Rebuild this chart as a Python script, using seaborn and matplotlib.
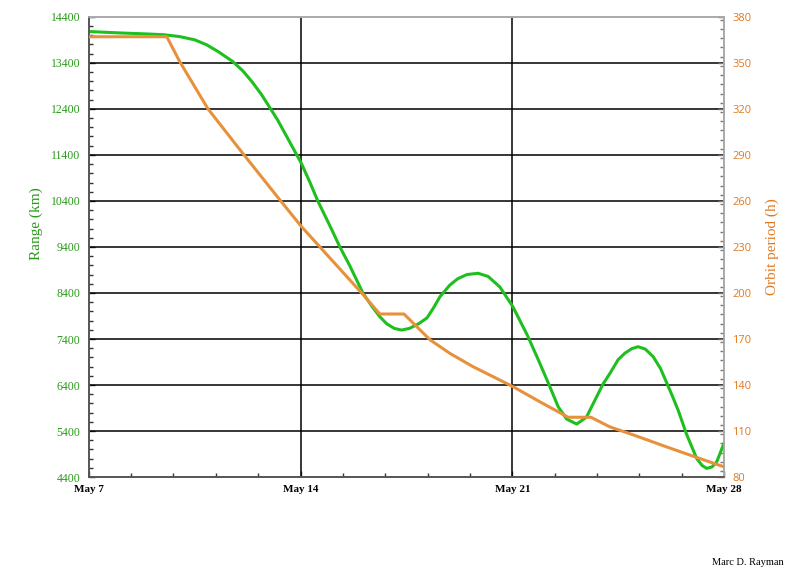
import matplotlib
matplotlib.use('Agg')
import matplotlib.pyplot as plt
from matplotlib.ticker import MultipleLocator
import seaborn as sns
import numpy as np

# days after May 7
range_days = [0, 1.0, 2.0, 2.5, 3.0, 3.5, 3.9, 4.27, 4.76, 5.1, 5.39, 5.7, 5.99,
              6.25, 6.5, 6.75, 7.02, 7.3, 7.57, 8.0, 8.3, 8.63, 9.06, 9.35, 9.62,
              9.85, 10.1, 10.34, 10.6, 10.9, 11.18, 11.4, 11.61, 11.94, 12.2, 12.5,
              12.87, 13.2, 13.59, 14.02, 14.5, 14.86, 15.22, 15.52, 15.8, 16.13,
              16.45, 16.79, 17.0, 17.23, 17.5, 17.72, 17.95, 18.16, 18.4, 18.66,
              18.9, 19.1, 19.3, 19.49, 19.76, 20.1, 20.28, 20.43, 20.6, 20.76, 21.0]
range_km = [14080, 14050, 14025, 14009, 13970, 13900, 13790, 13646, 13428, 13220,
            12993, 12720, 12422, 12150, 11850, 11550, 11226, 10820, 10400, 9820,
            9400, 8990, 8400, 8120, 7885, 7730, 7630, 7594, 7630, 7730, 7857, 8080,
            8320, 8574, 8710, 8800, 8828, 8760, 8530, 8102, 7480, 6950, 6400, 5926,
            5660, 5552, 5700, 6146, 6420, 6654, 6950, 7090, 7190, 7233, 7180, 7015,
            6760, 6457, 6150, 5843, 5335, 4800, 4650, 4589, 4620, 4733, 5133]

period_days = [0, 2.58, 3.0, 3.94, 5.09, 6.32, 7.02, 7.64, 9.02, 9.62, 10.42, 11.28,
               11.94, 12.7, 14.02, 14.91, 15.85, 16.6, 17.23, 18.0, 19.1, 20.2, 21.0]
period_h = [367, 367, 351, 320, 291, 260.6, 243.5, 230, 200, 186.3, 186.3, 169.5,
            160.6, 152, 139, 129.1, 119, 119, 112.7, 107.5, 99.7, 92.1, 86.7]

date_ticks = [0, 7, 14, 21]
date_labels = ['May 7', 'May 14', 'May 21', 'May 28']

sns.set_theme(style='white')
plt.rcParams['font.family'] = ['Liberation Serif', 'DejaVu Serif']

green = '#1fbf1f'
green_txt = '#2a9a1a'
orange = '#e8913c'
orange_txt = '#e07a22'

fig = plt.figure(figsize=(8, 5.79), dpi=100)
ax = fig.add_axes([0.111, 0.176, 0.794, 0.795])
ax2 = ax.twinx()

sns.lineplot(x=range_days, y=range_km, ax=ax, color=green, linewidth=2.2, zorder=3)
sns.lineplot(x=period_days, y=period_h, ax=ax2, color=orange, linewidth=2.2, zorder=3)

ax.set_xlim(0, 21)
ax.set_ylim(4400, 14400)
ax2.set_ylim(80, 380)

ax.set_xticks(date_ticks)
ax.set_xticklabels(date_labels, fontsize=8, fontweight='bold', color='black')
ax.xaxis.set_minor_locator(MultipleLocator(1.4))
ax.set_yticks(np.arange(4400, 14401, 1000))
ax.yaxis.set_minor_locator(MultipleLocator(200))
ax2.set_yticks(np.arange(80, 381, 30))
ax2.yaxis.set_minor_locator(MultipleLocator(6))

for lab in ax.get_yticklabels():
    lab.set_color(green_txt)
    lab.set_fontsize(8.5)
for lab in ax2.get_yticklabels():
    lab.set_color(orange_txt)
    lab.set_fontsize(8)
    lab.set_family(['Open Sans', 'DejaVu Sans'])

ax.tick_params(axis='both', which='major', direction='in', length=4, width=1,
               color='#333333', pad=6, left=True, bottom=True, right=False, top=False)
ax.tick_params(axis='both', which='minor', direction='in', length=3, width=1,
               color='#333333', left=True, bottom=True, right=False, top=False)
ax2.tick_params(axis='y', which='major', direction='in', length=4, width=1,
                color='#777777', pad=6, right=True, left=False)
ax2.tick_params(axis='y', which='minor', direction='in', length=3, width=1,
                color='#777777', right=True, left=False)
ax2.tick_params(axis='x', which='both', top=False, bottom=False)

# grid lines
for y in range(5400, 14400, 1000):
    ax.axhline(y, color='black', linewidth=1.1, zorder=1)
for d in [7, 14]:
    ax.axvline(d, color='black', linewidth=1.1, zorder=1)

for a in (ax, ax2):
    a.spines['top'].set_color('#aaaaaa')
    a.spines['right'].set_color('#aaaaaa')
    a.spines['left'].set_color('#555555')
    a.spines['bottom'].set_color('#555555')
    for s in a.spines.values():
        s.set_linewidth(1.2)
ax2.grid(False)
ax.grid(False)

ax.set_xlabel('')
ax.set_ylabel('Range (km)', fontsize=11, color=green_txt)
ax.yaxis.set_label_coords(-0.072, 0.55)
ax2.set_ylabel('Orbit period (h)', fontsize=11, color=orange_txt)
ax2.yaxis.set_label_coords(1.065, 0.5)

fig.text(0.89, 0.025, 'Marc D. Rayman', fontsize=7.5, color='black')

plt.savefig('out.png', dpi=100)
plt.close()
